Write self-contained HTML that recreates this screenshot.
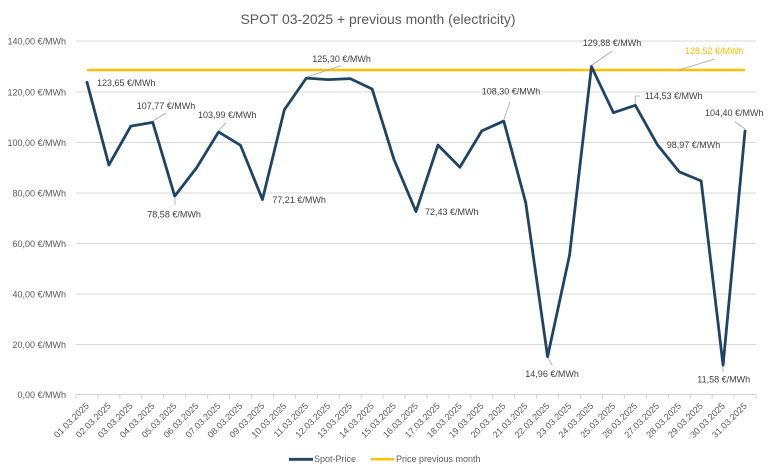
<!DOCTYPE html>
<html>
<head>
<meta charset="utf-8">
<style>
html,body{margin:0;padding:0;background:#fff;}
svg{display:block;font-family:"Liberation Sans",Arial,sans-serif;}
</style>
</head>
<body>
<svg width="768" height="476" viewBox="0 0 768 476" xmlns="http://www.w3.org/2000/svg">
<rect width="768" height="476" fill="#fff"/>
<text x="378" y="24" font-size="14" fill="#595959" text-anchor="middle" textLength="275" lengthAdjust="spacingAndGlyphs">SPOT 03-2025 + previous month (electricity)</text>

<!-- gridlines -->
<g stroke="#d9d9d9" stroke-width="1">
<line x1="76" y1="41" x2="756" y2="41"/>
<line x1="76" y1="92" x2="756" y2="92"/>
<line x1="76" y1="142.5" x2="756" y2="142.5"/>
<line x1="76" y1="193" x2="756" y2="193"/>
<line x1="76" y1="243.5" x2="756" y2="243.5"/>
<line x1="76" y1="294" x2="756" y2="294"/>
<line x1="76" y1="344.5" x2="756" y2="344.5"/>
</g>
<!-- axis -->
<line x1="76" y1="394.5" x2="756" y2="394.5" stroke="#d0d0d0" stroke-width="1"/>
<g stroke="#d0d0d0" stroke-width="1">
<line x1="76" y1="394.5" x2="76" y2="398.5"/><line x1="97.94" y1="394.5" x2="97.94" y2="398.5"/><line x1="119.87" y1="394.5" x2="119.87" y2="398.5"/><line x1="141.81" y1="394.5" x2="141.81" y2="398.5"/><line x1="163.74" y1="394.5" x2="163.74" y2="398.5"/><line x1="185.68" y1="394.5" x2="185.68" y2="398.5"/><line x1="207.61" y1="394.5" x2="207.61" y2="398.5"/><line x1="229.55" y1="394.5" x2="229.55" y2="398.5"/><line x1="251.48" y1="394.5" x2="251.48" y2="398.5"/><line x1="273.42" y1="394.5" x2="273.42" y2="398.5"/><line x1="295.35" y1="394.5" x2="295.35" y2="398.5"/><line x1="317.29" y1="394.5" x2="317.29" y2="398.5"/><line x1="339.22" y1="394.5" x2="339.22" y2="398.5"/><line x1="361.16" y1="394.5" x2="361.16" y2="398.5"/><line x1="383.09" y1="394.5" x2="383.09" y2="398.5"/><line x1="405.03" y1="394.5" x2="405.03" y2="398.5"/><line x1="426.96" y1="394.5" x2="426.96" y2="398.5"/><line x1="448.90" y1="394.5" x2="448.90" y2="398.5"/><line x1="470.83" y1="394.5" x2="470.83" y2="398.5"/><line x1="492.77" y1="394.5" x2="492.77" y2="398.5"/><line x1="514.70" y1="394.5" x2="514.70" y2="398.5"/><line x1="536.64" y1="394.5" x2="536.64" y2="398.5"/><line x1="558.57" y1="394.5" x2="558.57" y2="398.5"/><line x1="580.51" y1="394.5" x2="580.51" y2="398.5"/><line x1="602.44" y1="394.5" x2="602.44" y2="398.5"/><line x1="624.38" y1="394.5" x2="624.38" y2="398.5"/><line x1="646.31" y1="394.5" x2="646.31" y2="398.5"/><line x1="668.25" y1="394.5" x2="668.25" y2="398.5"/><line x1="690.18" y1="394.5" x2="690.18" y2="398.5"/><line x1="712.12" y1="394.5" x2="712.12" y2="398.5"/><line x1="734.05" y1="394.5" x2="734.05" y2="398.5"/><line x1="756" y1="394.5" x2="756" y2="398.5"/>
</g>

<!-- y labels -->
<g font-size="9" fill="#595959" text-anchor="end">
<text x="66" y="44.3">140,00 €/MWh</text>
<text x="66" y="95.3">120,00 €/MWh</text>
<text x="66" y="145.8">100,00 €/MWh</text>
<text x="66" y="196.3">80,00 €/MWh</text>
<text x="66" y="246.8">60,00 €/MWh</text>
<text x="66" y="297.3">40,00 €/MWh</text>
<text x="66" y="347.8">20,00 €/MWh</text>
<text x="66" y="397.8">0,00 €/MWh</text>
</g>

<!-- x labels -->
<g font-size="9" fill="#595959" text-anchor="end">
<text x="89.5" y="406.5" transform="rotate(-45 89.5 406.5)">01.03.2025</text>
<text x="111.4" y="406.5" transform="rotate(-45 111.4 406.5)">02.03.2025</text>
<text x="133.3" y="406.5" transform="rotate(-45 133.3 406.5)">03.03.2025</text>
<text x="155.3" y="406.5" transform="rotate(-45 155.3 406.5)">04.03.2025</text>
<text x="177.2" y="406.5" transform="rotate(-45 177.2 406.5)">05.03.2025</text>
<text x="199.1" y="406.5" transform="rotate(-45 199.1 406.5)">06.03.2025</text>
<text x="221.1" y="406.5" transform="rotate(-45 221.1 406.5)">07.03.2025</text>
<text x="243.0" y="406.5" transform="rotate(-45 243.0 406.5)">08.03.2025</text>
<text x="265.0" y="406.5" transform="rotate(-45 265.0 406.5)">09.03.2025</text>
<text x="286.9" y="406.5" transform="rotate(-45 286.9 406.5)">10.03.2025</text>
<text x="308.8" y="406.5" transform="rotate(-45 308.8 406.5)">11.03.2025</text>
<text x="330.8" y="406.5" transform="rotate(-45 330.8 406.5)">12.03.2025</text>
<text x="352.7" y="406.5" transform="rotate(-45 352.7 406.5)">13.03.2025</text>
<text x="374.6" y="406.5" transform="rotate(-45 374.6 406.5)">14.03.2025</text>
<text x="396.6" y="406.5" transform="rotate(-45 396.6 406.5)">15.03.2025</text>
<text x="418.5" y="406.5" transform="rotate(-45 418.5 406.5)">16.03.2025</text>
<text x="440.4" y="406.5" transform="rotate(-45 440.4 406.5)">17.03.2025</text>
<text x="462.4" y="406.5" transform="rotate(-45 462.4 406.5)">18.03.2025</text>
<text x="484.3" y="406.5" transform="rotate(-45 484.3 406.5)">19.03.2025</text>
<text x="506.2" y="406.5" transform="rotate(-45 506.2 406.5)">20.03.2025</text>
<text x="528.2" y="406.5" transform="rotate(-45 528.2 406.5)">21.03.2025</text>
<text x="550.1" y="406.5" transform="rotate(-45 550.1 406.5)">22.03.2025</text>
<text x="572.0" y="406.5" transform="rotate(-45 572.0 406.5)">23.03.2025</text>
<text x="594.0" y="406.5" transform="rotate(-45 594.0 406.5)">24.03.2025</text>
<text x="615.9" y="406.5" transform="rotate(-45 615.9 406.5)">25.03.2025</text>
<text x="637.8" y="406.5" transform="rotate(-45 637.8 406.5)">26.03.2025</text>
<text x="659.8" y="406.5" transform="rotate(-45 659.8 406.5)">27.03.2025</text>
<text x="681.7" y="406.5" transform="rotate(-45 681.7 406.5)">28.03.2025</text>
<text x="703.6" y="406.5" transform="rotate(-45 703.6 406.5)">29.03.2025</text>
<text x="725.6" y="406.5" transform="rotate(-45 725.6 406.5)">30.03.2025</text>
<text x="747.5" y="406.5" transform="rotate(-45 747.5 406.5)">31.03.2025</text>
</g>

<!-- previous month line -->
<line x1="86.97" y1="70" x2="745.02" y2="70" stroke="#FFC000" stroke-width="2.5"/>

<!-- spot line -->
<polyline fill="none" stroke="#1f4464" stroke-width="2.8" stroke-linejoin="round" stroke-linecap="round"
points="86.97,82.28 108.90,164.98 130.84,126.09 152.77,122.38 174.71,196.09 196.64,167.75 218.58,131.93 240.51,145.28 262.45,199.54 284.38,109.68 306.32,78.12 328.25,79.63 350.19,78.62 372.12,88.97 394.06,159.67 415.99,211.61 437.93,145.03 459.86,167.25 481.80,130.89 503.73,121.04 525.67,202.35 547.60,356.73 569.54,255.12 591.47,66.55 613.41,112.71 635.34,105.31 657.28,144.60 679.21,171.79 701.15,180.88 723.08,365.26 745.02,130.89"/>

<!-- leader lines -->
<g stroke="#a6a6a6" stroke-width="0.8" fill="none">
<line x1="153" y1="121" x2="166" y2="113"/>
<line x1="175" y1="198" x2="175" y2="205"/>
<line x1="219" y1="130" x2="226" y2="122.7"/>
<line x1="307" y1="77" x2="340.7" y2="65.7"/>
<line x1="504" y1="119" x2="510" y2="102"/>
<line x1="592" y1="65" x2="612.3" y2="51"/>
<polyline points="635.3,104 635.3,96 640,96"/>
<line x1="745" y1="129" x2="734.7" y2="121.3"/>
<line x1="548" y1="358" x2="552.3" y2="365"/>
<line x1="723" y1="367" x2="723" y2="372"/>
<line x1="679" y1="70" x2="714.7" y2="59"/>
</g>

<!-- data labels -->
<g font-size="9" fill="#404040">
<text x="97" y="86">123,65 €/MWh</text>
<text x="136.7" y="109.2">107,77 €/MWh</text>
<text x="147.3" y="217.5">78,58 €/MWh</text>
<text x="198" y="118.2">103,99 €/MWh</text>
<text x="272.3" y="203.2">77,21 €/MWh</text>
<text x="312.3" y="62.2">125,30 €/MWh</text>
<text x="425" y="215.2">72,43 €/MWh</text>
<text x="481.7" y="94.5">108,30 €/MWh</text>
<text x="582.7" y="45.9">129,88 €/MWh</text>
<text x="644.7" y="99.2">114,53 €/MWh</text>
<text x="666.7" y="147.9">98,97 €/MWh</text>
<text x="705" y="115.9">104,40 €/MWh</text>
<text x="525.3" y="377.2">14,96 €/MWh</text>
<text x="697.3" y="382.5">11,58 €/MWh</text>
</g>
<text x="685" y="53.9" font-size="9" fill="#FFC000">128,52 €/MWh</text>

<!-- legend -->
<line x1="289" y1="459.3" x2="313" y2="459.3" stroke="#1f4464" stroke-width="2.8"/>
<text x="314" y="462.2" font-size="9" fill="#595959">Spot-Price</text>
<line x1="371" y1="459.3" x2="394.3" y2="459.3" stroke="#FFC000" stroke-width="2.5"/>
<text x="396" y="462.2" font-size="9" fill="#595959">Price previous month</text>
</svg>
</body>
</html>
